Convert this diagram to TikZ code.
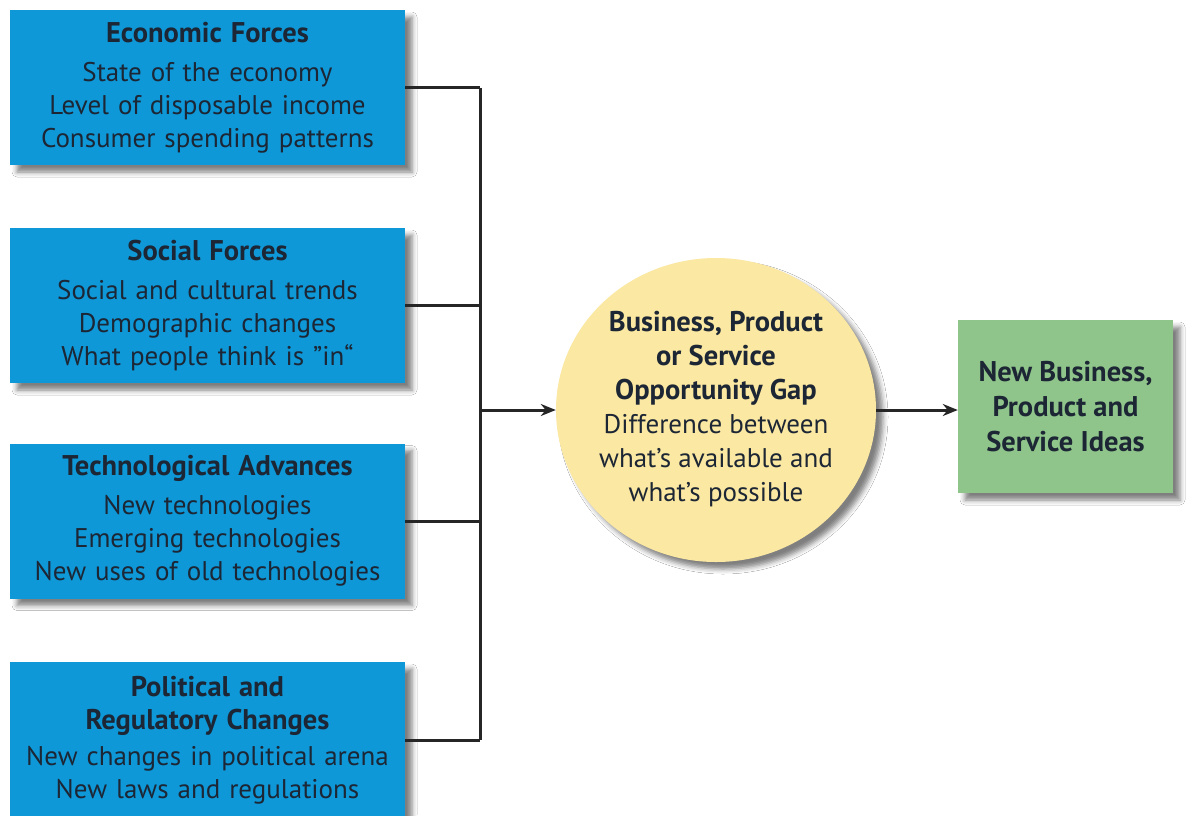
\documentclass[tikz,border=0pt]{standalone}
\usepackage{fontspec}
\setmainfont{PT Sans}
\usetikzlibrary{shapes.geometric,arrows.meta,shadows.blur}
\definecolor{boxblue}{HTML}{0E98D8}
\definecolor{gapyellow}{HTML}{FBE8A2}
\definecolor{ideagreen}{HTML}{8FC58A}
\definecolor{inkdark}{HTML}{1C2634}
\newcommand{\hd}[1]{{\fontsize{28.5}{33}\selectfont\bfseries #1}}
\tikzset{
  shade/.style={blur shadow={shadow xshift=7pt, shadow yshift=-7pt, shadow blur radius=5pt, shadow opacity=50}},
  forcebox/.style={rectangle, fill=boxblue, shade, minimum width=395pt, minimum height=155pt, text width=395pt, align=center, inner sep=0pt, text=inkdark, font=\fontsize{27}{33}\selectfont},
  gapnode/.style={ellipse, fill=gapyellow, shade, minimum width=320pt, minimum height=304pt, inner sep=0pt, text=inkdark, font=\fontsize{27}{34}\selectfont},
  ideabox/.style={rectangle, fill=ideagreen, shade, minimum width=215pt, minimum height=173pt, inner sep=0pt, align=center, text=inkdark, font=\fontsize{28.5}{35}\selectfont\bfseries},
  link/.style={line width=3pt, draw=black!85},
  flow/.style={link, -{Stealth[length=15pt,width=12pt]}}
}
\begin{document}
\begin{tikzpicture}[x=1pt,y=-1pt]
\clip (0,0) rectangle (1189,815);
\fill[white] (0,0) rectangle (1189,815);
\node[forcebox] (b1) at (207.5,87.5) {\hd{Economic Forces}\\[6pt]State of the economy\\Level of disposable income\\Consumer spending patterns};
\node[forcebox] (b2) at (207.5,305.5) {\hd{Social Forces}\\[6pt]Social and cultural trends\\Demographic changes\\What people think is ”in“};
\node[forcebox] (b3) at (207.5,521) {\hd{Technological Advances}\\[6pt]New technologies\\Emerging technologies\\New uses of old technologies};
\node[forcebox, minimum height=156pt] (b4) at (207.5,740) {\hd{Political and}\\\hd{Regulatory Changes}\\[3pt]New changes in political arena\\New laws and regulations};
\coordinate (bus) at (480,410);
\node[gapnode] (gap) at (716,410) {\makebox[200pt][c]{\begin{tabular}{@{}c@{}}\hd{Business, Product}\\\hd{or Service}\\\hd{Opportunity Gap}\\Difference between\\what’s available and\\what’s possible\end{tabular}}};
\node[ideabox] (idea) at (1065.5,406.5) {New Business,\\Product and\\Service Ideas};
\draw[link] (b1.east) -- (b1.east -| bus);
\draw[link] (b2.east) -- (b2.east -| bus);
\draw[link] (b3.east) -- (b3.east -| bus);
\draw[link] (b4.east) -- (b4.east -| bus);
\draw[link] (b1.east -| bus) -- (b4.east -| bus);
\draw[flow] (bus) -- (gap.west);
\draw[flow] (gap.east) -- (gap.east -| idea.west);
\end{tikzpicture}
\end{document}
